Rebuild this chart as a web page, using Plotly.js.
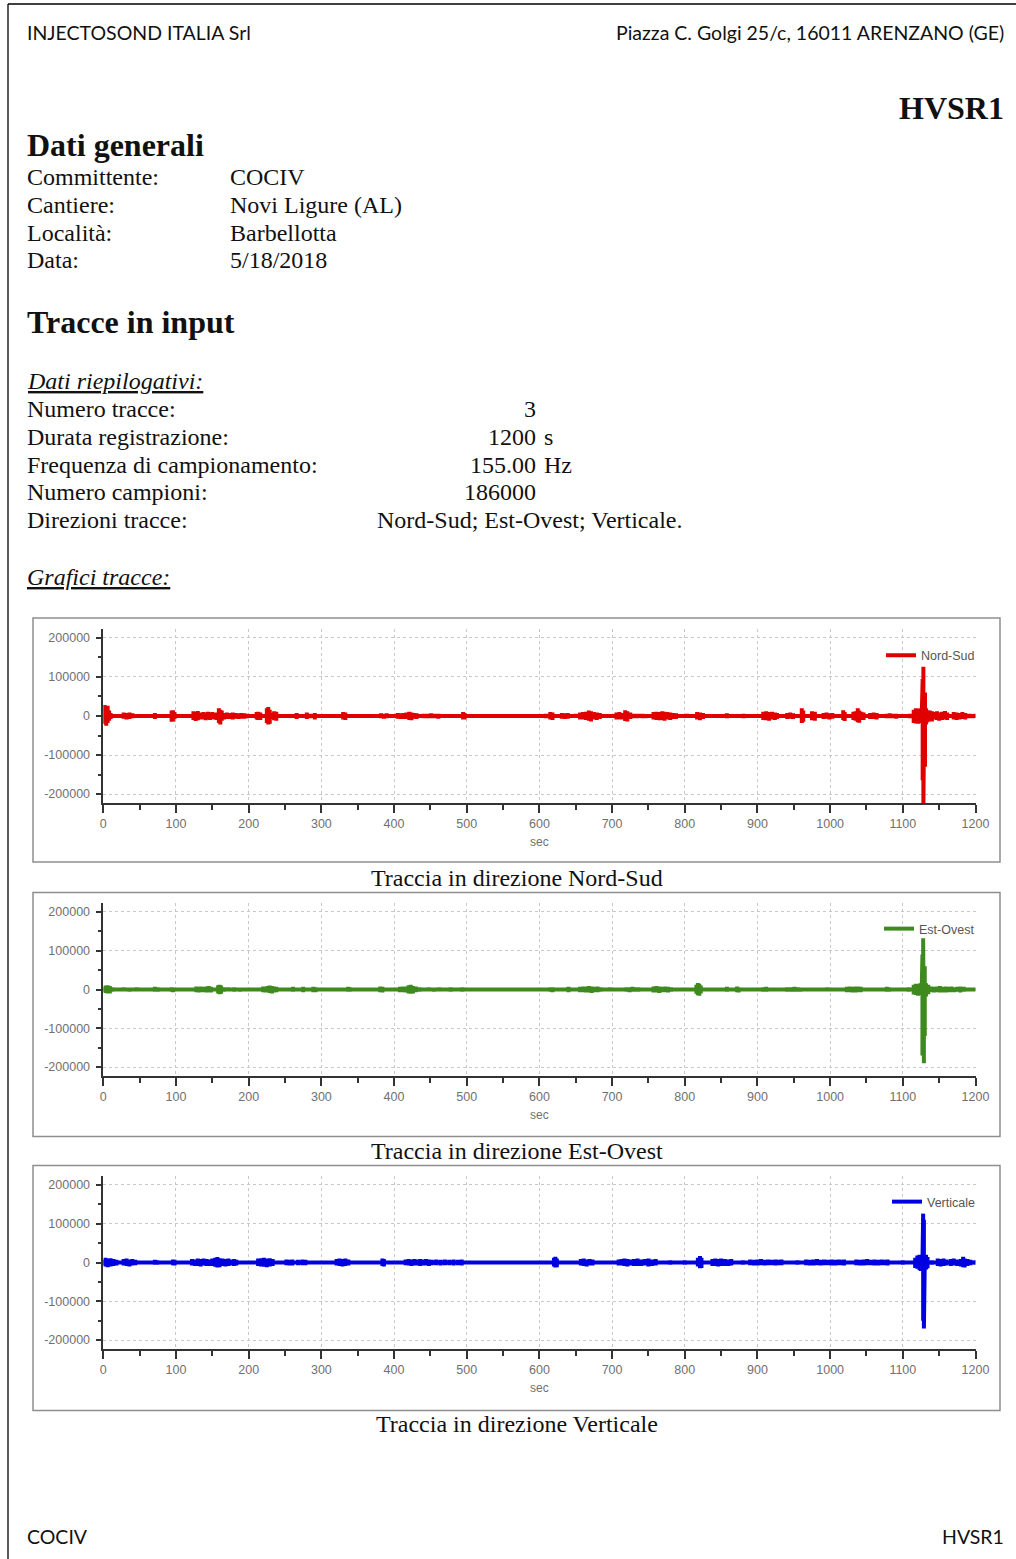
<!DOCTYPE html>
<html>
<head>
<meta charset="utf-8">
<script src="https://cdn.plot.ly/plotly-3.0.1.min.js"></script>
<style>
  html, body { margin: 0; padding: 0; background: #ffffff; }
  #page { width: 1016px; height: 1559px; }
</style>
</head>
<body>
<div id="page"></div>
<script>
// ---- Report header / summary text ----
const companyName = 'INJECTOSOND ITALIA Srl';
const companyAddress = 'Piazza C. Golgi 25/c, 16011 ARENZANO (GE)';
const stationId = 'HVSR1';
const generalLabels = ['Committente:', 'Cantiere:', 'Località:', 'Data:'];
const generalValues = ['COCIV', 'Novi Ligure (AL)', 'Barbellotta', '5/18/2018'];
const summaryLabels = ['Numero tracce:', 'Durata registrazione:', 'Frequenza di campionamento:', 'Numero campioni:', 'Direzioni tracce:'];
const summaryValues = ['3', '1200', '155.00', '186000'];
const summaryUnits = ['', 's', 'Hz', ''];
const summaryDirections = 'Nord-Sud; Est-Ovest; Verticale.';
const componentNames = ['Nord-Sud', 'Est-Ovest', 'Verticale'];
const captions = ['Traccia in direzione Nord-Sud', 'Traccia in direzione Est-Ovest', 'Traccia in direzione Verticale'];

// ---- Axis ticks ----
const xRange = [0, 1200];
const yRange = [-223000, 223000];
const yTickVals = [-200000, -100000, 0, 100000, 200000];
const yTickText = ['-200000', '-100000', '0', '100000', '200000'];

// ---- Trace envelopes: time (s), peak max and peak min (counts) of each burst ----
const nsTime = [0,2,4,6,8,10,28,32,36,40,71,94,96,98,124,127,130,133,138,141,144,147,150,153,156,159,161,163,166,170,174,178,182,186,190,194,198,211,213,216,225,227,229,232,235,238,266,280,285,291,330,333,382,386,390,405,409,413,417,421,424,428,431,441,446,451,456,461,495,497,609,615,618,631,635,639,650,656,660,664,668,671,675,679,683,706,710,714,718,721,725,730,734,738,742,746,757,761,765,769,772,776,780,784,788,803,817,821,825,858,881,908,912,916,920,924,927,941,945,949,961,963,975,979,991,995,999,1003,1018,1020,1032,1035,1038,1040,1043,1046,1055,1060,1064,1078,1082,1086,1091,1110,1115,1118,1121,1124,1126,1127.3,1128.3,1129.3,1130.5,1132,1134,1137,1140,1143,1147,1150,1154,1158,1161,1170,1174,1178,1182,1186,1192,1196,1200];
const nsMax  = [6000,28000,20000,26000,14000,8000,9000,8000,9000,7000,8000,14000,15000,10000,12000,10000,13000,9000,10000,8000,11000,9000,10000,8000,9000,20000,16000,14000,8000,9000,8000,9000,8000,7000,8000,7000,6000,10000,11000,9000,20000,23000,16000,8000,12000,11000,8000,9000,6000,8000,10000,9000,7000,6000,7000,8000,7000,8000,9000,11000,9000,8000,7000,6000,6000,7000,6000,6000,10000,8000,6000,10000,9000,8000,7000,8000,6000,9000,10000,11000,14000,12000,10000,9000,8000,9000,10000,8000,15000,12000,9000,6000,6000,6000,6000,5000,10000,11000,10000,12000,11000,10000,9000,8000,7000,6000,10000,9000,8000,7000,6000,11000,12000,10000,11000,9000,8000,8000,9000,7000,20000,14000,12000,11000,8000,9000,7000,8000,15000,10000,11000,12000,20000,14000,11000,9000,8000,9000,8000,6000,7000,6000,6000,6000,16000,20000,18000,20000,45000,95000,126000,110000,60000,20000,15000,14000,12000,10000,12000,9000,11000,13000,9000,10000,9000,8000,10000,8000,6000,5000,6000];
const nsMin  = [-6000,-20000,-25000,-18000,-12000,-8000,-7000,-9000,-8000,-6000,-8000,-15000,-14000,-8000,-10000,-13000,-11000,-9000,-9000,-11000,-9000,-10000,-8000,-9000,-10000,-18000,-22000,-12000,-9000,-8000,-8000,-9000,-7000,-8000,-7000,-7000,-6000,-9000,-10000,-10000,-18000,-22000,-20000,-8000,-11000,-12000,-8000,-8000,-6000,-9000,-9000,-10000,-6000,-7000,-6000,-7000,-8000,-8000,-8000,-10000,-11000,-7000,-8000,-6000,-6000,-6000,-6000,-7000,-9000,-9000,-6000,-9000,-10000,-7000,-8000,-7000,-5000,-9000,-9000,-10000,-12000,-14000,-9000,-10000,-8000,-9000,-9000,-9000,-13000,-14000,-8000,-6000,-6000,-5000,-6000,-6000,-9000,-10000,-11000,-10000,-12000,-9000,-10000,-8000,-8000,-5000,-9000,-11000,-8000,-6000,-6000,-10000,-11000,-12000,-9000,-10000,-8000,-8000,-7000,-8000,-18000,-15000,-11000,-12000,-8000,-7000,-9000,-7000,-10000,-13000,-10000,-12000,-16000,-17000,-10000,-10000,-8000,-8000,-9000,-6000,-6000,-6000,-7000,-6000,-18000,-19000,-20000,-18000,-70000,-165000,-240000,-240000,-130000,-22000,-16000,-13000,-14000,-9000,-10000,-12000,-10000,-9000,-10000,-9000,-10000,-9000,-8000,-9000,-6000,-6000,-5000];

const ewTime = [0,3,6,9,12,28,36,46,71,75,94,96,128,131,134,137,142,145,148,158,160,162,166,172,180,188,220,223,226,229,232,235,238,261,268,275,283,289,292,337,339,381,384,408,412,416,420,423,426,430,435,441,448,455,462,470,478,486,494,592,615,618,640,656,660,664,668,672,676,680,684,693,697,702,720,724,728,732,736,757,761,765,769,773,777,781,816,818,820,822,858,872,874,908,912,941,946,951,956,959,996,1023,1027,1031,1035,1039,1042,1078,1081,1108,1115,1118,1121,1124,1126,1127,1128,1129,1130.2,1132,1135,1139,1143,1147,1151,1155,1159,1163,1167,1171,1175,1179,1184,1190,1200];
const ewMax  = [6000,10000,11000,9000,6000,6000,5000,6000,7000,6000,6000,5000,8000,7000,8000,7000,8000,9000,7000,11000,12000,10000,6000,6000,6000,5000,8000,7000,9000,10000,9000,8000,7000,7000,5000,7000,5000,7000,6000,7000,6000,8000,7000,7000,8000,8000,11000,12000,9000,8000,6000,5000,6000,5000,6000,5000,6000,5000,6000,5000,6000,6000,7000,7000,8000,8000,9000,8000,7000,8000,6000,5000,6000,5000,6000,6000,7000,6000,6000,8000,9000,8000,7000,8000,7000,6000,12000,17000,15000,10000,7000,8000,6000,6000,7000,6000,6000,7000,6000,5000,6000,7000,8000,7000,8000,8000,7000,7000,6000,6000,12000,15000,14000,16000,40000,90000,132000,110000,60000,16000,12000,8000,7000,8000,9000,7000,8000,7000,8000,6000,7000,8000,7000,5000,5000];
const ewMin  = [-6000,-9000,-10000,-10000,-6000,-5000,-6000,-5000,-6000,-6000,-6000,-7000,-7000,-8000,-7000,-7000,-8000,-7000,-8000,-10000,-12000,-11000,-6000,-5000,-6000,-6000,-7000,-8000,-8000,-9000,-10000,-8000,-7000,-6000,-5000,-7000,-5000,-7000,-7000,-6000,-6000,-7000,-8000,-7000,-7000,-8000,-10000,-11000,-10000,-7000,-6000,-5000,-5000,-6000,-5000,-5000,-6000,-5000,-6000,-5000,-6000,-7000,-7000,-7000,-7000,-8000,-8000,-9000,-7000,-7000,-6000,-5000,-5000,-5000,-6000,-7000,-6000,-6000,-6000,-8000,-8000,-9000,-7000,-7000,-8000,-6000,-11000,-15000,-16000,-10000,-6000,-7000,-8000,-6000,-6000,-6000,-6000,-6000,-6000,-6000,-5000,-7000,-7000,-8000,-8000,-7000,-7000,-6000,-6000,-6000,-13000,-14000,-16000,-14000,-60000,-170000,-175000,-190000,-120000,-18000,-12000,-7000,-8000,-7000,-8000,-8000,-8000,-7000,-7000,-7000,-6000,-8000,-6000,-5000,-5000];

const vTime = [0,3,6,10,14,18,28,32,36,40,44,71,74,96,98,122,126,130,134,138,142,146,150,154,157,160,164,168,172,176,180,183,213,217,221,225,229,233,252,256,260,268,274,278,321,325,329,333,337,384,386,416,420,424,428,432,436,440,444,448,452,458,464,470,476,482,488,493,620,622,624,657,661,665,669,673,709,713,717,721,725,730,735,740,745,750,755,760,780,800,818,821,823,838,842,846,850,855,860,864,880,890,895,900,905,910,915,920,925,930,933,955,967,972,977,982,987,992,997,1002,1007,1012,1016,1019,1036,1041,1046,1051,1056,1061,1066,1071,1076,1079,1100,1117,1120,1123,1125,1127,1128,1129,1130.2,1132,1134,1140,1148,1152,1156,1160,1166,1170,1175,1180,1183,1185,1189,1193,1200];
const vMax   = [8000,12000,10000,11000,9000,7000,9000,10000,8000,9000,7000,7000,6000,8000,7000,9000,8000,10000,9000,10000,9000,8000,10000,12000,14000,11000,10000,9000,10000,8000,9000,7000,10000,11000,12000,10000,11000,9000,8000,7000,8000,7000,8000,7000,9000,10000,9000,10000,8000,10000,9000,8000,9000,8000,9000,8000,9000,8000,9000,8000,7000,8000,7000,8000,7000,8000,7000,8000,12000,15000,10000,9000,10000,8000,9000,8000,8000,9000,10000,9000,8000,9000,10000,8000,9000,10000,8000,9000,6000,6000,12000,17000,12000,9000,10000,9000,10000,9000,8000,9000,6000,8000,7000,8000,9000,7000,8000,7000,8000,7000,8000,6000,8000,7000,8000,9000,7000,8000,7000,8000,7000,8000,7000,8000,8000,7000,8000,9000,7000,8000,7000,8000,7000,8000,6000,12000,18000,20000,18000,60000,126000,110000,50000,20000,14000,6000,10000,9000,10000,8000,9000,10000,8000,9000,15000,10000,9000,7000,6000];
const vMin   = [-8000,-10000,-12000,-10000,-9000,-8000,-8000,-9000,-10000,-8000,-7000,-6000,-6000,-7000,-8000,-8000,-9000,-9000,-10000,-8000,-9000,-9000,-9000,-11000,-13000,-12000,-9000,-10000,-9000,-8000,-9000,-8000,-9000,-10000,-11000,-12000,-10000,-9000,-7000,-8000,-8000,-7000,-7000,-7000,-8000,-9000,-10000,-9000,-8000,-9000,-10000,-7000,-8000,-9000,-8000,-8000,-9000,-8000,-8000,-9000,-7000,-7000,-8000,-7000,-7000,-8000,-7000,-8000,-10000,-13000,-12000,-8000,-9000,-10000,-8000,-8000,-8000,-8000,-9000,-10000,-8000,-9000,-9000,-9000,-8000,-10000,-9000,-8000,-6000,-6000,-10000,-15000,-14000,-9000,-9000,-10000,-9000,-9000,-9000,-8000,-6000,-7000,-8000,-8000,-7000,-8000,-7000,-7000,-8000,-7000,-7000,-6000,-7000,-8000,-8000,-7000,-8000,-7000,-7000,-8000,-8000,-7000,-7000,-8000,-7000,-8000,-8000,-7000,-7000,-8000,-8000,-7000,-7000,-8000,-6000,-14000,-16000,-20000,-22000,-140000,-150000,-170000,-80000,-18000,-15000,-6000,-9000,-10000,-9000,-8000,-9000,-8000,-9000,-10000,-12000,-13000,-9000,-7000,-6000];

const traceColors = ['#e00000', '#3f8a1e', '#0000e0'];

// ---- Page geometry (pixels of the 1016 x 1559 sheet) ----
const W = 1016, H = 1559;
const px = v => v / W;
const py = v => 1 - v / H;
const plotLeft = 103.3, plotRight = 975.5;
const plotTops = [629, 903, 1176];
const plotBottoms = [803, 1076, 1349];
const frameTops = [618, 892.5, 1165.5];
const frameBottoms = [862, 1136.5, 1410.5];
const captionYs = [878, 1151, 1424];
const legendYs = [655.7, 929, 1202];

// Each burst is drawn as a vertical stroke from its max to its min,
// joined to the next one along the zero line.
function strokePath(t, hi, lo) {
  const x = [], y = [];
  for (let i = 0; i < t.length; i++) {
    x.push(t[i], t[i], t[i], t[i]);
    y.push(0, hi[i], lo[i], 0);
  }
  return { x, y };
}

const series = [
  strokePath(nsTime, nsMax, nsMin),
  strokePath(ewTime, ewMax, ewMin),
  strokePath(vTime, vMax, vMin)
];

const tickFont = { family: 'Liberation Sans Narrow, Liberation Sans, Arial, sans-serif', size: 12.5, color: '#707070' };
const serif = 'Liberation Serif, Times New Roman, serif';
const sans = 'Lato, Open Sans, sans-serif';

const data = series.map((s, i) => ({
  type: 'scatter',
  mode: 'lines',
  x: s.x,
  y: s.y,
  name: componentNames[i],
  xaxis: 'x' + (i ? i + 1 : ''),
  yaxis: 'y' + (i ? i + 1 : ''),
  legend: 'legend' + (i ? i + 1 : ''),
  line: { color: traceColors[i], width: 4 },
  hoverinfo: 'skip'
}));

const layout = {
  width: W,
  height: H,
  margin: { l: 0, r: 0, t: 0, b: 0 },
  paper_bgcolor: '#ffffff',
  plot_bgcolor: 'rgba(0,0,0,0)',
  showlegend: true,
  shapes: [],
  annotations: []
};

for (let i = 0; i < 3; i++) {
  const sx = i ? String(i + 1) : '';
  layout['xaxis' + sx] = {
    domain: [px(plotLeft), px(plotRight)],
    anchor: 'y' + sx,
    range: xRange,
    tick0: 0, dtick: 100,
    ticks: 'outside', ticklen: 8, tickwidth: 2, tickcolor: '#333333',
    showline: true, linecolor: '#333333', linewidth: 2,
    showgrid: true, gridcolor: '#c8c8c8', griddash: 'dot', gridwidth: 1,
    zeroline: false,
    tickfont: tickFont,
    minor: { dtick: 50, ticks: 'outside', ticklen: 5, tickwidth: 1.5, tickcolor: '#333333', showgrid: false },
    title: { text: 'sec', font: { family: tickFont.family, size: 12, color: '#707070' }, standoff: 8 },
    fixedrange: true
  };
  layout['yaxis' + sx] = {
    domain: [py(plotBottoms[i]), py(plotTops[i])],
    anchor: 'x' + sx,
    range: yRange,
    tickmode: 'array', tickvals: yTickVals, ticktext: yTickText,
    ticks: 'outside', ticklen: 6, tickwidth: 1.5, tickcolor: '#333333',
    ticklabelstandoff: 3,
    showline: true, linecolor: '#333333', linewidth: 1.5,
    showgrid: true, gridcolor: '#c8c8c8', griddash: 'dot', gridwidth: 1,
    zeroline: false,
    tickfont: tickFont,
    minor: { dtick: 50000, tick0: 0, ticks: 'outside', ticklen: 4, tickwidth: 1.5, tickcolor: '#333333', showgrid: false },
    fixedrange: true
  };
  layout['legend' + sx] = {
    x: px(980), xanchor: 'right',
    y: py(legendYs[i]), yanchor: 'middle',
    bgcolor: 'rgba(0,0,0,0)', borderwidth: 0,
    itemwidth: 30,
    font: { family: tickFont.family, size: 12.5, color: '#555555' }
  };
  // chart frame
  layout.shapes.push({
    type: 'rect', xref: 'paper', yref: 'paper',
    x0: px(33), x1: px(1000), y0: py(frameBottoms[i]), y1: py(frameTops[i]),
    line: { color: '#8e8e8e', width: 1.5 }, fillcolor: 'rgba(0,0,0,0)', layer: 'below'
  });
  // caption under the frame
  layout.annotations.push({
    xref: 'paper', yref: 'paper', x: px(516.5), y: py(captionYs[i]),
    xanchor: 'center', yanchor: 'middle', showarrow: false,
    text: captions[i], font: { family: serif, size: 24, color: '#111111' }
  });
}

// sheet border
layout.shapes.push(
  { type: 'line', xref: 'paper', yref: 'paper', x0: px(8), x1: px(1016), y0: py(4), y1: py(4), line: { color: '#000000', width: 1.3 } },
  { type: 'line', xref: 'paper', yref: 'paper', x0: px(8), x1: px(8), y0: py(4), y1: 0, line: { color: '#000000', width: 1.3 } }
);

// annotation boxes carry ~3px of inner padding; compensate so glyphs land on x
function addText(text, x, y, anchor, font) {
  const shift = anchor === 'left' ? -3 : (anchor === 'right' ? 3 : 0);
  layout.annotations.push({
    xref: 'paper', yref: 'paper', x: px(x + shift), y: py(y),
    xanchor: anchor, yanchor: 'middle', showarrow: false,
    text: text, font: font
  });
}

const headFont = { family: sans, size: 19.5, color: '#111111' };
addText(companyName, 28, 32, 'left', headFont);
addText(companyAddress, 1003, 32, 'right', headFont);
addText('<b>' + stationId + '</b>', 1003, 108, 'right', { family: serif, size: 32, color: '#111111' });
addText('<b>Dati generali</b>', 28, 145, 'left', { family: serif, size: 32, color: '#111111' });

const bodyFont = { family: serif, size: 24, color: '#111111' };
const generalYs = [177, 205, 233, 260];
generalLabels.forEach((lab, k) => {
  addText(lab, 28, generalYs[k], 'left', bodyFont);
  addText(generalValues[k], 231, generalYs[k], 'left', bodyFont);
});

addText('<b>Tracce in input</b>', 28, 322, 'left', { family: serif, size: 32, color: '#111111' });
addText('Dati riepilogativi:', 28, 381, 'left', { family: serif, size: 24, color: '#111111', style: 'italic', lineposition: 'under' });

const summaryYs = [409, 437, 465, 492, 520];
summaryLabels.forEach((lab, k) => addText(lab, 28, summaryYs[k], 'left', bodyFont));
summaryValues.forEach((val, k) => {
  addText(val, 535, summaryYs[k], 'right', bodyFont);
  if (summaryUnits[k]) addText(summaryUnits[k], 545, summaryYs[k], 'left', bodyFont);
});
addText(summaryDirections, 378, summaryYs[4], 'left', bodyFont);

addText('Grafici tracce:', 28, 577, 'left', { family: serif, size: 24, color: '#111111', style: 'italic', lineposition: 'under' });

addText(generalValues[0], 28, 1536, 'left', headFont);
addText(stationId, 1003, 1536, 'right', headFont);

Plotly.newPlot('page', data, layout, { displayModeBar: false, responsive: false });
</script>
</body>
</html>
